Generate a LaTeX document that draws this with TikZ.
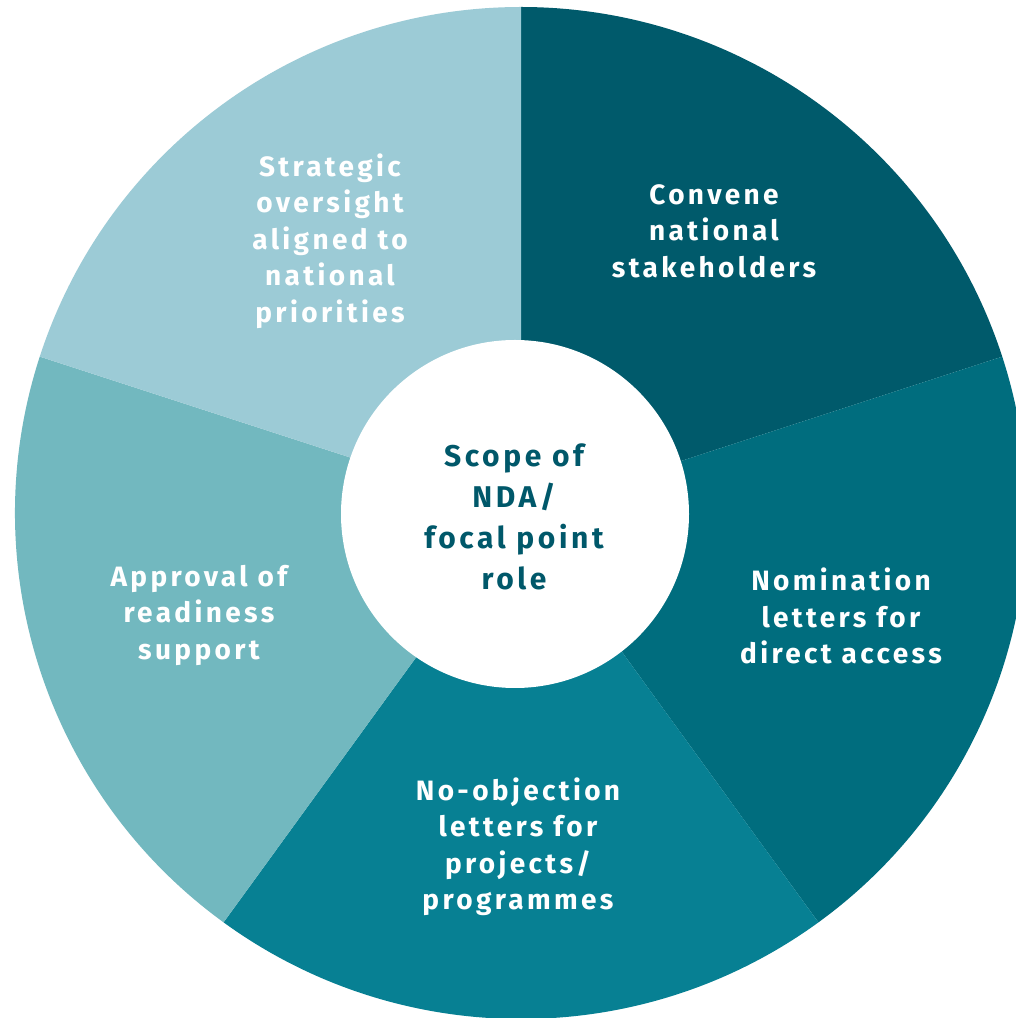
\documentclass[tikz,border=0pt]{standalone}
\usepackage{fontspec}
\setmainfont{Fira Sans}[LetterSpace=12]
\definecolor{cA}{HTML}{005A6B}
\definecolor{cB}{HTML}{006D7E}
\definecolor{cC}{HTML}{078093}
\definecolor{cD}{HTML}{72B8BF}
\definecolor{cE}{HTML}{9CCBD6}
\definecolor{ctext}{HTML}{00586A}
\begin{document}
\begin{tikzpicture}[x=0.5pt,y=0.5pt,
  seglabel/.style={text=white,align=center,font=\fontsize{14pt}{18.25pt}\selectfont\bfseries,inner sep=0pt},
  hublabel/.style={text=ctext,align=center,font=\fontsize{15pt}{20.5pt}\selectfont\bfseries,inner sep=0pt}]
\useasboundingbox (0,0) rectangle (1016,1018);
\fill[white] (0,0) rectangle (1016,1018);
\begin{scope}
\clip (0,0) rectangle (1016,1018);
\coordinate (O) at (521,505);
\fill[cA] (O) -- ++(90:506) arc[start angle=90,end angle=18,radius=506] -- cycle;
\fill[cB] (O) -- ++(18:506) arc[start angle=18,end angle=-54,radius=506] -- cycle;
\fill[cC] (O) -- ++(-54:506) arc[start angle=-54,end angle=-126,radius=506] -- cycle;
\fill[cD] (O) -- ++(-126:506) arc[start angle=-126,end angle=-198,radius=506] -- cycle;
\fill[cE] (O) -- ++(162:506) arc[start angle=162,end angle=90,radius=506] -- cycle;
\end{scope}
\node[circle,fill=white,minimum size=174pt,inner sep=0pt] (hub) at (515,504) {};
\node[hublabel] (hubtext) at (514,501) {Scope of\\NDA/\\focal point\\role};
\node[seglabel] (strat) at (330,777) {Strategic\\oversight\\aligned to\\national\\priorities};
\node[seglabel] (conv) at (714,787) {Convene\\national\\stakeholders};
\node[seglabel] (nomi) at (841,402) {Nomination\\letters for\\direct access};
\node[seglabel] (noobj) at (518,171) {No-objection\\letters for\\projects/\\programmes};
\node[seglabel] (appr) at (199,403) {Approval of\\readiness\\support};
\end{tikzpicture}
\end{document}
